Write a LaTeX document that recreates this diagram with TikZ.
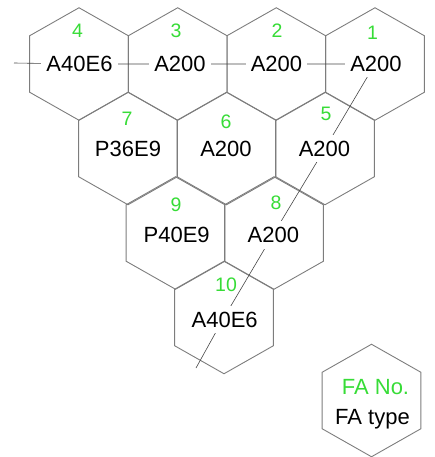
\documentclass[tikz,border=0pt]{standalone}
\usepackage{fontspec}
\setmainfont{Liberation Sans}
\definecolor{hexgray}{RGB}{125,125,125}
\definecolor{numgreen}{RGB}{55,220,55}
\definecolor{linkgray}{RGB}{70,70,70}
\tikzset{
  hexedge/.style={draw=hexgray, line width=0.9pt, line join=miter},
  link/.style={draw=linkgray, line width=0.6pt},
  fatype/.style={font=\fontsize{22}{22}\selectfont, fill=white, inner xsep=5pt, inner ysep=6pt, text=black},
  fano/.style={font=\fontsize{19.5}{19.5}\selectfont, text=numgreen, inner sep=0pt},
  legtext/.style={font=\fontsize{22}{22}\selectfont, inner sep=0pt, anchor=base},
}
\newcommand{\hexat}[1]{\draw[hexedge] (#1) ++(0,-56.25) -- ++(49.35,28) -- ++(0,56.5) -- ++(-49.35,28) -- ++(-49.35,-28) -- ++(0,-56.5) -- cycle;}
\begin{document}
\begin{tikzpicture}[x=1pt,y=-1pt]
\useasboundingbox (0,0) rectangle (434,457);
% hexagon centres
\coordinate (c4) at (79,64);
\coordinate (c3) at (177.7,64);
\coordinate (c2) at (276.3,64);
\coordinate (c1) at (375,64);
\coordinate (c7) at (128,148.5);
\coordinate (c6) at (226.5,148.5);
\coordinate (c5) at (325,148.5);
\coordinate (c9) at (175.5,233);
\coordinate (c8) at (274,233);
\coordinate (c10) at (224,317.5);
\coordinate (cl) at (371.5,400.5);
% hexagons
\foreach \c in {c1,c2,c3,c4,c5,c6,c7,c8,c9,c10,cl} {\hexat{\c}}
% path line
\coordinate (start) at (14,63);
\coordinate (stop) at (196,368);
\draw[link] (start) -- (c4) -- (c3) -- (c2) -- (c1) -- (c5) -- (c8) -- (c10) -- (stop);
% FA types
\node[fatype] (t4) at (79.5,63.5) {A40E6};
\node[fatype] (t3) at (180,63.5) {A200};
\node[fatype] (t2) at (276.5,63.5) {A200};
\node[fatype] (t1) at (376,63.5) {A200};
\node[fatype] (t7) at (128,148.5) {P36E9};
\node[fatype] (t6) at (226,148.5) {A200};
\node[fatype] (t5) at (324.5,148.5) {A200};
\node[fatype] (t9) at (176.7,235) {P40E9};
\node[fatype] (t8) at (273.3,235) {A200};
\node[fatype] (t10) at (224.7,319.5) {A40E6};
% FA numbers
\node[fano] (n4) at (77.5,31) {4};
\node[fano] (n3) at (176,31) {3};
\node[fano] (n2) at (277,31) {2};
\node[fano] (n1) at (372.5,33) {1};
\node[fano] (n7) at (127,119) {7};
\node[fano] (n6) at (226,122) {6};
\node[fano] (n5) at (326,114) {5};
\node[fano] (n9) at (176,205) {9};
\node[fano] (n8) at (276,202.5) {8};
\node[fano] (n10) at (226,285) {10};
% legend
\node[legtext, text=numgreen] (lno) at (375.5,394) {FA No.};
\node[legtext, text=black] (ltype) at (372.5,424) {FA type};
\end{tikzpicture}
\end{document}
